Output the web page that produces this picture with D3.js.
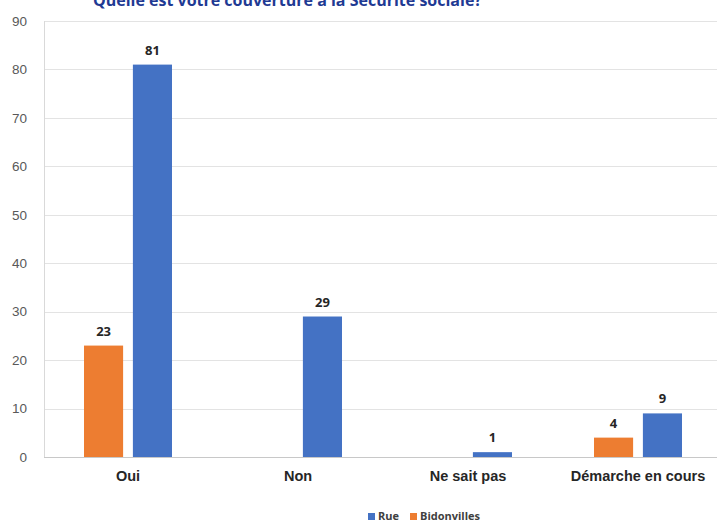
<!DOCTYPE html>
<html>
<head>
<meta charset="utf-8">
<script src="https://d3js.org/d3.v7.min.js"></script>
<style>
  body { margin: 0; background: #fff; }
  svg { display: block; font-family: "Open Sans", "Liberation Sans", sans-serif; }
</style>
</head>
<body>
<div id="chart"></div>
<script>
let categories = ["Oui", "Non", "Ne sait pas", "Démarche en cours"];
let seriesNames = ["Bidonvilles", "Rue"];
let bidonvilles = [23, 0, 0, 4];
let rue = [81, 29, 1, 9];
let yTicks = [0, 10, 20, 30, 40, 50, 60, 70, 80, 90];
let legendOrder = ["Rue", "Bidonvilles"];

let width = 717, height = 525;
let colors = {"Rue": "#4472c4", "Bidonvilles": "#ed7d31"};
let padding = {top: 21, right: 0, bottom: 68, left: 44};

let svg = d3.select("#chart")
	.append("svg")
	.attr("width", width)
	.attr("height", height);

// title, cut off at the top of the picture like in the source
svg.append("text")
	.attr("x", 482)
	.attr("y", 6)
	.attr("text-anchor", "end")
	.attr("fill", "#1f3a93")
	.style("font-size", "16px")
	.style("font-weight", "bold")
	.text("Quelle est votre couverture à la Sécurité sociale?");

let yScale = d3.scaleLinear()
	.domain([0, 90])
	.range([height - padding.bottom, padding.top]);

let xScale = d3.scaleBand()
	.domain(categories)
	.range([padding.left - 1, padding.left - 1 + 170 * 4])
	.paddingInner(0)
	.paddingOuter(0);

let subScale = d3.scaleBand()
	.domain(seriesNames)
	.range([-44, 44])
	.paddingInner(0.2)
	.paddingOuter(0);

// gridlines
svg.append("g")
	.selectAll("line")
	.data(yTicks)
	.enter()
	.append("line")
	.attr("x1", padding.left)
	.attr("x2", width)
	.attr("y1", d => Math.round(yScale(d)) + 0.5)
	.attr("y2", d => Math.round(yScale(d)) + 0.5)
	.attr("stroke", d => d === 0 ? "#c8c8c8" : "#e3e3e3")
	.attr("stroke-width", 1);

svg.append("line")
	.attr("x1", padding.left + 0.5)
	.attr("x2", padding.left + 0.5)
	.attr("y1", yScale(90))
	.attr("y2", yScale(0))
	.attr("stroke", "#d9d9d9");

let yAxis = d3.axisLeft(yScale)
	.tickValues(yTicks)
	.tickSize(0)
	.tickPadding(0);

svg.append("g")
	.attr("transform", "translate(27,0)")
	.call(yAxis)
	.call(g => g.select(".domain").remove())
	.selectAll("text")
	.attr("fill", "#595959")
	.style("font-size", "13.5px");

let rows = categories.map((c, i) => ({
	cat: c,
	values: [
		{name: "Bidonvilles", value: bidonvilles[i]},
		{name: "Rue", value: rue[i]}
	]
}));

let groups = svg.append("g")
	.selectAll("g")
	.data(rows)
	.enter()
	.append("g")
	.attr("transform", d => "translate(" + (xScale(d.cat) + xScale.bandwidth() / 2) + ",0)");

let bars = groups.selectAll("g")
	.data(d => d.values.filter(v => v.value > 0))
	.enter()
	.append("g");

bars.append("rect")
	.attr("x", d => subScale(d.name))
	.attr("width", subScale.bandwidth())
	.attr("y", d => yScale(d.value))
	.attr("height", d => yScale(0) - yScale(d.value))
	.attr("fill", d => colors[d.name]);

bars.append("text")
	.attr("x", d => subScale(d.name) + subScale.bandwidth() / 2)
	.attr("y", d => yScale(d.value) - 10)
	.attr("text-anchor", "middle")
	.attr("fill", "#262626")
	.style("font-size", "13px")
	.style("font-weight", "bold")
	.text(d => d.value);

let xAxis = d3.axisBottom(xScale)
	.tickSize(0)
	.tickPadding(0);

svg.append("g")
	.attr("transform", "translate(0," + (yScale(0) + 14) + ")")
	.call(xAxis)
	.call(g => g.select(".domain").remove())
	.selectAll("text")
	.attr("fill", "#262626")
	.style("font-size", "14.5px")
	.style("font-weight", "bold");

// legend
let legend = svg.append("g")
	.attr("transform", "translate(368,513)");

let legendX = [0, 42];
let items = legend.selectAll("g")
	.data(legendOrder)
	.enter()
	.append("g")
	.attr("transform", (d, i) => "translate(" + legendX[i] + ",0)");

items.append("rect")
	.attr("width", 7)
	.attr("height", 7)
	.attr("y", 0)
	.attr("fill", d => colors[d]);

items.append("text")
	.attr("x", 10)
	.attr("y", 7)
	.attr("fill", "#404040")
	.style("font-size", "11px")
	.style("font-weight", "bold")
	.text(d => d);
</script>
</body>
</html>
